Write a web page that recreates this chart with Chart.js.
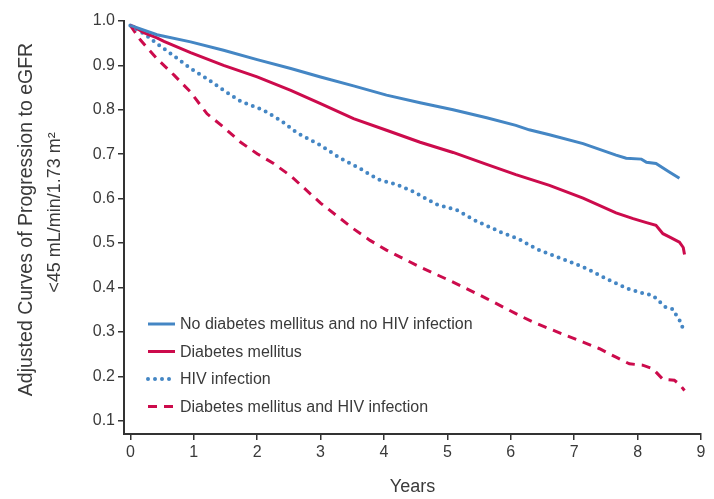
<!DOCTYPE html>
<html>
<head>
<meta charset="utf-8">
<script src="https://cdn.jsdelivr.net/npm/chart.js@4.4.1/dist/chart.umd.min.js"></script>
<style>
  html, body { margin: 0; padding: 0; background: #fff; }
  #wrap { width: 714px; height: 499px; }
</style>
</head>
<body>
<div id="wrap"><canvas id="km" width="714" height="499"></canvas></div>
<script>
// values (years, adjusted proportion)
var yearTicks = [0, 1, 2, 3, 4, 5, 6, 7, 8, 9];
var valueTicks = [0.1, 0.2, 0.3, 0.4, 0.5, 0.6, 0.7, 0.8, 0.9, 1.0];

var seriesNames = [
    'No diabetes mellitus and no HIV infection',
    'Diabetes mellitus',
    'HIV infection',
    'Diabetes mellitus and HIV infection'
];
var yTitleLines = ['Adjusted Curves of Progression to eGFR', '<45 mL/min/1.73 m\u00b2'];

var noDmNoHivYears = [0, 0.42, 0.95, 1.47, 2.0, 2.53, 3.0, 3.52, 4.04, 4.57, 5.09, 5.62, 6.08, 6.29, 6.61, 7.14, 7.66, 7.82, 8.06, 8.14, 8.29, 8.5, 8.66];
var noDmNoHivValues = [0.99, 0.969, 0.953, 0.934, 0.913, 0.893, 0.874, 0.854, 0.833, 0.816, 0.800, 0.782, 0.765, 0.755, 0.744, 0.724, 0.698, 0.691, 0.689, 0.682, 0.679, 0.66, 0.646];

var dmYears = [0, 0.05, 0.21, 0.42, 0.53, 0.95, 1.47, 2.0, 2.53, 3.0, 3.52, 4.04, 4.57, 5.09, 5.62, 6.08, 6.61, 7.14, 7.66, 7.93, 8.14, 8.29, 8.4, 8.5, 8.66, 8.72, 8.74];
var dmValues = [0.99, 0.988, 0.974, 0.962, 0.954, 0.929, 0.900, 0.874, 0.844, 0.814, 0.780, 0.754, 0.727, 0.704, 0.677, 0.654, 0.630, 0.601, 0.568, 0.555, 0.546, 0.540, 0.521, 0.514, 0.502, 0.49, 0.474];

var hivYears = [0, 0.24, 0.42, 0.69, 0.95, 1.21, 1.47, 1.74, 2.1, 2.37, 2.63, 3.0, 3.3, 3.62, 3.91, 4.2, 4.46, 4.83, 5.15, 5.46, 5.7, 5.86, 6.04, 6.14, 6.4, 6.69, 6.95, 7.22, 7.53, 7.85, 8.08, 8.24, 8.34, 8.44, 8.56, 8.62, 8.69, 8.72];
var hivValues = [0.99, 0.969, 0.949, 0.921, 0.893, 0.870, 0.844, 0.819, 0.799, 0.776, 0.748, 0.720, 0.692, 0.668, 0.643, 0.632, 0.616, 0.587, 0.574, 0.549, 0.534, 0.523, 0.514, 0.508, 0.487, 0.471, 0.457, 0.441, 0.418, 0.397, 0.387, 0.382, 0.369, 0.356, 0.351, 0.335, 0.320, 0.303];

var dmHivYears = [0, 0.16, 0.42, 0.69, 0.95, 1.21, 1.47, 1.74, 2.0, 2.26, 2.53, 3.0, 3.52, 3.78, 4.04, 4.57, 5.09, 5.62, 6.08, 6.35, 6.61, 6.87, 7.14, 7.4, 7.66, 7.87, 8.08, 8.24, 8.4, 8.58, 8.66, 8.74];
var dmHivValues = [0.99, 0.957, 0.915, 0.878, 0.840, 0.791, 0.761, 0.727, 0.701, 0.679, 0.651, 0.590, 0.532, 0.506, 0.484, 0.446, 0.412, 0.375, 0.341, 0.322, 0.307, 0.292, 0.277, 0.262, 0.243, 0.228, 0.225, 0.217, 0.193, 0.191, 0.182, 0.168];

var blue = '#4486c4';
var red = '#cc0b4c';
var textColor = '#3a3a3a';
var fontFamily = '"Liberation Sans", Arial, sans-serif';

function toPoints(xs, ys) {
    var pts = [];
    for (var i = 0; i < xs.length; i++) {
        pts.push({ x: xs[i], y: ys[i] });
    }
    return pts;
}

// legend sits inside the plot, bottom left
var insideLegend = {
    id: 'insideLegend',
    afterDraw: function(chart) {
        var ctx = chart.ctx,
            area = chart.chartArea;
        ctx.save();
        chart.data.datasets.forEach(function(ds, i) {
            var y = area.bottom - 110 + i * 27.5,
                x0 = area.left + 24,
                x1 = area.left + 51;
            ctx.strokeStyle = ds.borderColor;
            ctx.lineWidth = ds.borderWidth;
            ctx.lineCap = ds.borderCapStyle || 'butt';
            ctx.setLineDash(ds.borderDash || []);
            ctx.beginPath();
            ctx.moveTo(x0, y);
            ctx.lineTo(x1, y);
            ctx.stroke();
            ctx.setLineDash([]);
            ctx.fillStyle = textColor;
            ctx.font = '16px ' + fontFamily;
            ctx.textBaseline = 'middle';
            ctx.textAlign = 'left';
            ctx.fillText(ds.label, area.left + 56, y + 1);
        });
        ctx.restore();
    }
};

// two-line rotated y title, sitting a bit above the axis middle like the original
var sideTitle = {
    id: 'sideTitle',
    afterDraw: function(chart) {
        var ctx = chart.ctx,
            area = chart.chartArea,
            mid = (area.top + area.bottom) / 2;
        ctx.save();
        ctx.fillStyle = textColor;
        ctx.textAlign = 'center';
        ctx.textBaseline = 'middle';
        ctx.font = '19.5px ' + fontFamily;
        ctx.translate(27, mid - 8);
        ctx.rotate(-Math.PI / 2);
        ctx.fillText(yTitleLines[0], 0, 0);
        ctx.font = '18px ' + fontFamily;
        ctx.fillText(yTitleLines[1], 7, 28);
        ctx.restore();
    }
};

var ctx = document.getElementById('km').getContext('2d');
var kmChart = new Chart(ctx, {
    type: 'line',
    data: {
        datasets: [{
            label: seriesNames[0],
            data: toPoints(noDmNoHivYears, noDmNoHivValues),
            borderColor: blue,
            borderWidth: 3
        }, {
            label: seriesNames[1],
            data: toPoints(dmYears, dmValues),
            borderColor: red,
            borderWidth: 3
        }, {
            label: seriesNames[2],
            data: toPoints(hivYears, hivValues),
            borderColor: blue,
            borderWidth: 4,
            borderDash: [0, 7],
            borderCapStyle: 'round'
        }, {
            label: seriesNames[3],
            data: toPoints(dmHivYears, dmHivValues),
            borderColor: red,
            borderWidth: 3,
            borderDash: [9, 7]
        }]
    },
    options: {
        responsive: false,
        animation: false,
        elements: { point: { radius: 0 }, line: { tension: 0, fill: false } },
        layout: { padding: { top: 21, right: 13, bottom: 0, left: 0 } },
        plugins: {
            legend: { display: false },
            tooltip: { enabled: false }
        },
        scales: {
            x: {
                type: 'linear',
                min: -0.1,
                max: 9,
                afterFit: function(scale) { scale.height = 65; },
                afterBuildTicks: function(scale) {
                    scale.ticks = yearTicks.map(function(v) { return { value: v }; });
                },
                grid: { drawOnChartArea: false, drawTicks: true, tickLength: 6, color: '#333', lineWidth: 1.5 },
                border: { color: '#333', width: 2 },
                ticks: {
                    color: textColor,
                    padding: 3,
                    maxRotation: 0,
                    font: { family: fontFamily, size: 16 },
                    callback: function(v) { return v; }
                },
                title: {
                    display: true,
                    text: 'Years',
                    color: textColor,
                    font: { family: fontFamily, size: 18, lineHeight: 1.2 },
                    padding: { top: 0, bottom: 1 }
                }
            },
            y: {
                min: 0.07,
                max: 1.0,
                afterFit: function(scale) { scale.width = 124; },
                afterBuildTicks: function(scale) {
                    scale.ticks = valueTicks.map(function(v) { return { value: v }; });
                },
                grid: { drawOnChartArea: false, drawTicks: true, tickLength: 6, color: '#333', lineWidth: 1.5 },
                border: { color: '#333', width: 2 },
                ticks: {
                    color: textColor,
                    padding: 3,
                    font: { family: fontFamily, size: 16 },
                    callback: function(v) { return v.toFixed(1); }
                }
            }
        }
    },
    plugins: [insideLegend, sideTitle]
});
</script>
</body>
</html>
